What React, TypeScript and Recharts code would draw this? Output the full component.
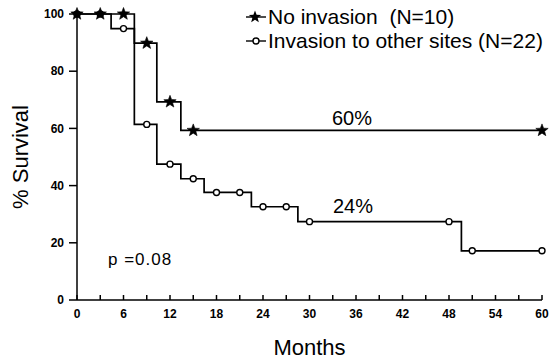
import { ComposedChart, Line, XAxis, YAxis, Legend, Label } from "recharts"

// Kaplan-Meier curves: step points plus censor marks (mark = 1)
const noInvMonths = [0, 3, 6, 7.4, 9, 10.3, 12, 13.4, 15, 60]
const noInvSurv = [100, 100, 100, 89.8, 89.8, 69.3, 69.3, 59.3, 59.3, 59.3]
const noInvMark = [1, 1, 1, 0, 1, 0, 1, 0, 1, 1]

const invMonths = [0, 3, 4.4, 6, 7.4, 9, 10.3, 12, 13.4, 15, 16.4, 18, 21, 22.5, 24, 27, 28.5, 30, 48, 49.6, 51, 60]
const invSurv = [100, 100, 94.9, 94.9, 61.4, 61.4, 47.5, 47.5, 42.4, 42.4, 37.6, 37.6, 37.6, 32.6, 32.6, 32.6, 27.4, 27.4, 27.4, 17.2, 17.2, 17.2]
const invMark = [1, 1, 0, 1, 0, 1, 0, 1, 0, 1, 0, 1, 1, 0, 1, 1, 0, 1, 1, 0, 1, 1]

const xTicks = [0, 3, 6, 9, 12, 15, 18, 21, 24, 27, 30, 33, 36, 39, 42, 45, 48, 51, 54, 57, 60]
const yTicks = [0, 20, 40, 60, 80, 100]

const seriesNames = ["No invasion  (N=10)", "Invasion to other sites (N=22)"]

const noInvData = noInvMonths.map((m, i) => ({ month: m, surv: noInvSurv[i], mark: noInvMark[i] }))
const invData = invMonths.map((m, i) => ({ month: m, surv: invSurv[i], mark: invMark[i] }))

const FONT = "'Liberation Sans', Arial, sans-serif"

function starPath(cx: number, cy: number, r: number) {
  const pts: string[] = []
  for (let i = 0; i < 10; i++) {
    const rad = i % 2 === 0 ? r : r * 0.42
    const a = -Math.PI / 2 + (i * Math.PI) / 5
    pts.push(`${(cx + rad * Math.cos(a)).toFixed(2)},${(cy + rad * Math.sin(a)).toFixed(2)}`)
  }
  return "M" + pts.join("L") + "Z"
}

const StarDot = (props: any) => {
  const { cx, cy, payload, index } = props
  if (!payload || !payload.mark) return <g key={`s${index}`} />
  return <path key={`s${index}`} d={starPath(cx, cy, 6.5)} fill="#000" stroke="#000" strokeWidth={0.6} />
}

const CircleDot = (props: any) => {
  const { cx, cy, payload, index } = props
  if (!payload || !payload.mark) return <g key={`c${index}`} />
  return <circle key={`c${index}`} cx={cx} cy={cy} r={3} fill="#fff" stroke="#000" strokeWidth={1.4} />
}

const XTick = (props: any) => {
  const { x, y, payload } = props
  const showLabel = payload.value % 6 === 0
  return (
    <g>
      <line x1={x} x2={x} y1={y} y2={y - 5} stroke="#000" strokeWidth={1.5} />
      {showLabel && (
        <text x={x} y={y + 18} textAnchor="middle" fontSize={12} fontWeight="bold" fontFamily={FONT} fill="#000">
          {payload.value}
        </text>
      )}
    </g>
  )
}

const LegendContent = () => (
  <div style={{ fontFamily: FONT, fontSize: 21, color: "#000", lineHeight: "24px" }}>
    {seriesNames.map((name, i) => (
      <div key={name} style={{ display: "flex", alignItems: "center", whiteSpace: "pre" }}>
        <svg width={24} height={14}>
          <line x1={2} x2={22} y1={7} y2={7} stroke="#000" strokeWidth={1.4} />
          {i === 0 ? (
            <path d={starPath(11, 7, 6.5)} fill="#000" />
          ) : (
            <circle cx={12} cy={7} r={3} fill="#fff" stroke="#000" strokeWidth={1.4} />
          )}
        </svg>
        {name}
      </div>
    ))}
  </div>
)

export default function App() {
  return (
    <div style={{ position: "relative", width: 557, height: 360, background: "#fff" }}>
      <style>{`body{margin:0}`}</style>
      <ComposedChart width={557} height={360} margin={{ top: 14, right: 15, bottom: 30, left: 37 }}>
        <XAxis
          type="number"
          dataKey="month"
          domain={[0, 60]}
          ticks={xTicks}
          interval={0}
          tickSize={0}
          tickMargin={0}
          tick={<XTick />}
          height={30}
          axisLine={{ stroke: "#000", strokeWidth: 1.5 }}
          allowDuplicatedCategory={false}
        >
          <Label value="Months" position="insideBottom" offset={-25} style={{ fontFamily: FONT, fontSize: 22, fill: "#000" }} />
        </XAxis>
        <YAxis
          type="number"
          domain={[0, 100]}
          ticks={yTicks}
          width={40}
          tickSize={8}
          tickMargin={5}
          tick={{ fontSize: 12, fontWeight: "bold", fontFamily: FONT, fill: "#000" }}
          tickLine={{ stroke: "#000", strokeWidth: 1.5 }}
          axisLine={{ stroke: "#000", strokeWidth: 1.5 }}
        >
          <Label value="% Survival" angle={-90} position="insideLeft" offset={-17} style={{ fontFamily: FONT, fontSize: 22, fill: "#000", textAnchor: "middle" }} />
        </YAxis>
        <Legend layout="vertical" align="center" verticalAlign="middle" content={<LegendContent />} wrapperStyle={{ left: 244, top: 5, width: 313 }} />
        <Line data={invData} dataKey="surv" type="stepAfter" stroke="#000" strokeWidth={1.7} dot={<CircleDot />} activeDot={false} isAnimationActive={false} />
        <Line data={noInvData} dataKey="surv" type="stepAfter" stroke="#000" strokeWidth={1.7} dot={<StarDot />} activeDot={false} isAnimationActive={false} />
      </ComposedChart>
      <div style={{ position: "absolute", left: 332, top: 107, fontFamily: FONT, fontSize: 20, color: "#000" }}>60%</div>
      <div style={{ position: "absolute", left: 333, top: 195, fontFamily: FONT, fontSize: 20, color: "#000" }}>24%</div>
      <div style={{ position: "absolute", left: 108, top: 250, fontFamily: FONT, fontSize: 17, letterSpacing: 1, color: "#000" }}>p =0.08</div>
    </div>
  )
}
